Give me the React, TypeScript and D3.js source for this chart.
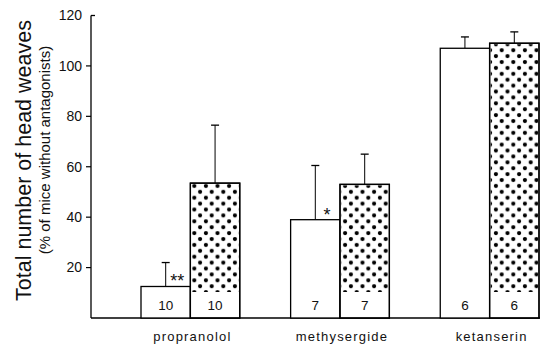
import React from "react";
import * as d3 from "d3";

const categories = ["propranolol", "methysergide", "ketanserin"];
const controlValues = [12.5, 39, 107];
const controlErrors = [9.5, 21.5, 4.5];
const treatedValues = [53.5, 53, 109];
const treatedErrors = [23, 12, 4.5];
const controlN = ["10", "7", "6"];
const treatedN = ["10", "7", "6"];
const stars = ["**", "*", ""];
const yTicks = [20, 40, 60, 80, 100, 120];

const W = 540;
const H = 349;
const FONT = "'Liberation Sans', Arial, Helvetica, sans-serif";

export default function App() {
  const y = d3.scaleLinear().domain([0, 120]).range([318, 15.5]);
  const x = d3.scaleBand<string>().domain(categories).range([141, 539]).paddingInner(0.34).paddingOuter(0);
  const sub = d3.scaleBand<string>().domain(["c", "t"]).range([0, x.bandwidth()]).padding(0);
  const bw = sub.bandwidth();
  const axisX = 91;
  const base = y(0);
  const bandTop = base - 26;

  return (
    <svg width={W} height={H} style={{ position: "absolute", left: 0, top: 0, background: "#fff" }} fontFamily={FONT}>
      <defs>
        <pattern id="dots" patternUnits="userSpaceOnUse" width={11.6} height={11.8} x={0} y={0}>
          <circle cx={2.9} cy={3} r={2.1} fill="#000" />
          <circle cx={8.7} cy={8.9} r={2.1} fill="#000" />
        </pattern>
      </defs>
      {/* y axis titles */}
      <text transform={`translate(31,160.5) rotate(-90)`} textAnchor="middle" fontSize={21.5} fill="#111">
        Total number of head weaves
      </text>
      <text transform={`translate(49.5,150) rotate(-90)`} textAnchor="middle" fontSize={15} fill="#111">
        (% of mice without antagonists)
      </text>
      {/* axis */}
      <line x1={axisX} x2={axisX} y1={y(120)} y2={base} stroke="#000" strokeWidth={1.3} />
      <line x1={axisX} x2={540} y1={base} y2={base} stroke="#000" strokeWidth={1.5} />
      {yTicks.map((t) => (
        <g key={t}>
          {t === 120 ? (
            <line x1={axisX} x2={axisX + 4} y1={y(t)} y2={y(t)} stroke="#000" strokeWidth={1.3} />
          ) : (
            <line x1={axisX - 5} x2={axisX} y1={y(t)} y2={y(t)} stroke="#000" strokeWidth={1.2} />
          )}
          <text x={82} y={y(t) + 4.8} textAnchor="end" fontSize={14} fill="#111">
            {t}
          </text>
        </g>
      ))}
      {categories.map((c, i) => {
        const gx = x(c)!;
        const cx0 = gx + sub("c")!;
        const cx1 = gx + sub("t")!;
        const cTop = y(controlValues[i]);
        const tTop = y(treatedValues[i]);
        const cErr = y(controlValues[i] + controlErrors[i]);
        const tErr = y(treatedValues[i] + treatedErrors[i]);
        return (
          <g key={c}>
            {/* control error bar */}
            <line x1={cx0 + bw / 2} x2={cx0 + bw / 2} y1={cTop} y2={cErr} stroke="#000" strokeWidth={1} />
            <line x1={cx0 + bw / 2 - 4} x2={cx0 + bw / 2 + 4} y1={cErr} y2={cErr} stroke="#000" strokeWidth={1.3} />
            {/* treated error bar */}
            <line x1={cx1 + bw / 2} x2={cx1 + bw / 2} y1={tTop} y2={tErr} stroke="#000" strokeWidth={1} />
            <line x1={cx1 + bw / 2 - 4} x2={cx1 + bw / 2 + 4} y1={tErr} y2={tErr} stroke="#000" strokeWidth={1.3} />
            {/* control bar */}
            <rect x={cx0} y={cTop} width={bw} height={base - cTop} fill="#fff" stroke="#000" strokeWidth={1.3} />
            {/* treated bar */}
            <rect x={cx1} y={tTop} width={bw} height={base - tTop} fill="#fff" stroke="#000" strokeWidth={1.3} />
            <rect x={cx1 + 1} y={tTop + 1} width={bw - 2} height={bandTop - tTop - 1} fill="url(#dots)" />
            <rect x={cx1} y={tTop} width={bw} height={base - tTop} fill="none" stroke="#000" strokeWidth={1.3} />
            <text x={cx0 + bw / 2} y={base - 8} textAnchor="middle" fontSize={13.5} fill="#111">
              {controlN[i]}
            </text>
            <text x={cx1 + bw / 2} y={base - 8} textAnchor="middle" fontSize={13.5} fill="#111">
              {treatedN[i]}
            </text>
            {stars[i] && (
              <text x={cx0 + bw - 13} y={cTop + 1} textAnchor="middle" fontSize={18} fill="#111">
                {stars[i]}
              </text>
            )}
            <text x={gx + x.bandwidth() / 2 + 2} y={341} textAnchor="middle" fontSize={13} letterSpacing={1.2} fill="#111">
              {c}
            </text>
          </g>
        );
      })}
    </svg>
  );
}
